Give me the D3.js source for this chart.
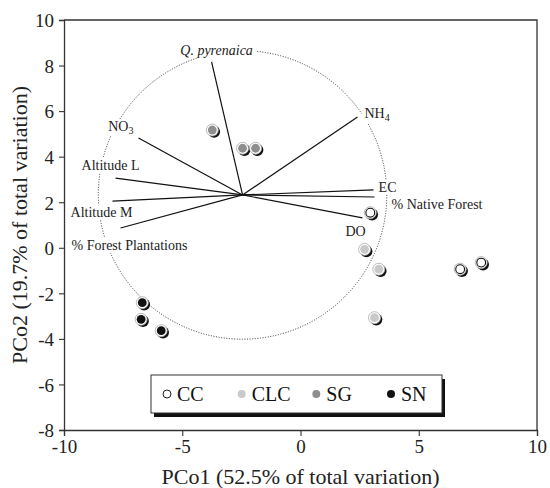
<!DOCTYPE html>
<html>
<head>
<meta charset="utf-8">
<script src="https://cdn.jsdelivr.net/npm/d3@7"></script>
<style>
  body { margin: 0; background: #fff; }
  svg { font-family: "Liberation Serif", "Times New Roman", serif; }
</style>
</head>
<body>
<div id="chart"></div>
<script>
// axis ticks
const xTicks = [-10, -5, 0, 5, 10];
const yTicks = [-8, -6, -4, -2, 0, 2, 4, 6, 8, 10];

// sample groups (PCo scores)
const groups = ['CC', 'CLC', 'SG', 'SN'];
const groupFill = ['#ffffff', '#c9c9c9', '#8e8e8e', '#111111'];
const ccX = [2.95, 6.75, 7.64];
const ccY = [1.54, -0.94, -0.65];
const clcX = [2.71, 3.31, 3.13];
const clcY = [-0.07, -0.94, -3.07];
const sgX = [-3.73, -2.45, -1.90];
const sgY = [5.17, 4.37, 4.37];
const snX = [-6.69, -6.74, -5.89];
const snY = [-2.41, -3.14, -3.64];

// vector overlay (origin, correlation circle radius in x units, tips)
const vecOrigin = [-2.45, 2.32];
const circleRadius = 6.1;
const vecNames = ['Q. pyrenaica', 'NO3', 'Altitude L', 'Altitude M', '% Forest Plantations', 'NH4', 'EC', '% Native Forest', 'DO'];
const vecX = [-3.76, -6.85, -7.82, -7.95, -7.61, 2.41, 3.09, 3.13, 2.62];
const vecY = [8.16, 4.82, 3.06, 2.05, 0.87, 5.74, 2.54, 2.23, 1.31];

// label placement relative to vector tip (px)
const labelPos = {
  'Q. pyrenaica': {dx: 5, dy: -7, anchor: 'middle'},
  'NO3': {dx: -5, dy: -7, anchor: 'end'},
  'Altitude L': {dx: -5, dy: -8, anchor: 'middle'},
  'Altitude M': {dx: -11, dy: 16, anchor: 'middle'},
  '% Forest Plantations': {dx: -49, dy: 22, anchor: 'start'},
  'NH4': {dx: 7, dy: 1, anchor: 'start'},
  'EC': {dx: 5, dy: 2, anchor: 'start'},
  '% Native Forest': {dx: 17, dy: 12, anchor: 'start'},
  'DO': {dx: -17, dy: 18, anchor: 'start'}
};

const W = 550, H = 488;
const margin = {top: 20, right: 13, bottom: 58, left: 64};
const width = W - margin.left - margin.right;
const height = H - margin.top - margin.bottom;

const svg = d3.select('#chart').append('svg')
  .attr('width', W)
  .attr('height', H);

const g = svg.append('g')
  .attr('transform', 'translate(' + margin.left + ',' + margin.top + ')');

const x = d3.scaleLinear().domain([-10, 10]).range([0, width]);
const y = d3.scaleLinear().domain([-8, 10]).range([height, 0]);

// frame (top and right)
g.append('path')
  .attr('d', 'M0,0H' + width + 'V' + height)
  .attr('fill', 'none')
  .attr('stroke', '#333')
  .attr('stroke-width', 1.3);

// axes - plain hyphen for negatives like the original
const fmt = d => String(d);
const xAxis = g.append('g')
  .attr('transform', 'translate(0,' + height + ')')
  .call(d3.axisBottom(x).tickValues(xTicks).tickSize(6).tickPadding(4).tickFormat(fmt));
const yAxis = g.append('g')
  .call(d3.axisLeft(y).tickValues(yTicks).tickSize(5).tickPadding(5).tickFormat(fmt));

[xAxis, yAxis].forEach(a => {
  a.select('.domain').attr('stroke', '#333').attr('stroke-width', 1.3);
  a.selectAll('.tick line').attr('stroke', '#333').attr('stroke-width', 1.1);
  a.selectAll('.tick text')
    .attr('fill', '#222')
    .style('font-family', '"Liberation Serif", serif')
    .style('font-size', '19px');
});
yAxis.selectAll('.tick text').attr('dy', '0.36em');

// axis titles
svg.append('text')
  .attr('x', margin.left + width / 2)
  .attr('y', 484)
  .attr('text-anchor', 'middle')
  .style('font-size', '22px')
  .attr('fill', '#222')
  .text('PCo1 (52.5% of total variation)');

svg.append('text')
  .attr('transform', 'translate(27,' + (margin.top + height / 2) + ') rotate(-90)')
  .attr('text-anchor', 'middle')
  .style('font-size', '22px')
  .attr('fill', '#222')
  .text('PCo2 (19.7% of total variation)');

// correlation circle
const ox = x(vecOrigin[0]), oy = y(vecOrigin[1]);
g.append('circle')
  .attr('cx', ox)
  .attr('cy', oy)
  .attr('r', x(vecOrigin[0] + circleRadius) - ox)
  .attr('fill', 'none')
  .attr('stroke', '#333')
  .attr('stroke-width', 1)
  .attr('stroke-dasharray', '1,1.6');

// vectors
const vectors = vecNames.map((n, i) => ({name: n, x: vecX[i], y: vecY[i]}));

const labels = g.append('g').attr('class', 'labels');

g.selectAll('.vec')
  .data(vectors)
  .join('line')
  .attr('class', 'vec')
  .attr('x1', ox).attr('y1', oy)
  .attr('x2', d => x(d.x)).attr('y2', d => y(d.y))
  .attr('stroke', '#111')
  .attr('stroke-width', 1.2);

vectors.forEach(d => {
  const p = labelPos[d.name];
  const t = labels.append('text')
    .attr('x', x(d.x) + p.dx)
    .attr('y', y(d.y) + p.dy)
    .attr('text-anchor', p.anchor)
    .style('font-size', '14px')
    .attr('fill', '#222');
  if (d.name === 'NO3' || d.name === 'NH4') {
    t.append('tspan').text(d.name.slice(0, 2));
    t.append('tspan').attr('dy', 3).style('font-size', '10px').text(d.name.slice(2));
  } else {
    t.text(d.name);
    if (d.name === 'Q. pyrenaica') t.style('font-style', 'italic');
  }
});
// knock out the circle under the labels
labels.selectAll('text').each(function() {
  const b = this.getBBox();
  labels.insert('rect', ':first-child')
    .attr('x', b.x - 3).attr('y', b.y)
    .attr('width', b.width + 6).attr('height', b.height)
    .attr('fill', '#fff');
});
labels.raise();

// points
const pts = [];
[[ccX, ccY], [clcX, clcY], [sgX, sgY], [snX, snY]].forEach((s, gi) => {
  s[0].forEach((v, i) => pts.push({x: v, y: s[1][i], group: gi}));
});

const ptG = g.append('g');
const pt = ptG.selectAll('g')
  .data(pts)
  .join('g')
  .attr('transform', d => 'translate(' + x(d.x) + ',' + y(d.y) + ')');
pt.append('circle')
  .attr('cx', 1.8).attr('cy', 1.8).attr('r', 6)
  .attr('fill', '#111');
pt.append('circle')
  .attr('r', 6)
  .attr('fill', '#fff')
  .attr('stroke', '#aaa')
  .attr('stroke-width', 0.8);
pt.append('circle')
  .attr('r', 4.4)
  .attr('fill', d => groupFill[d.group])
  .attr('stroke', d => d.group === 0 ? '#111' : 'none')
  .attr('stroke-width', 1.1);

// legend
const lg = svg.append('g').attr('transform', 'translate(151,375)');
const lgW = 291, lgH = 38;
lg.append('rect')
  .attr('x', 3).attr('y', 4).attr('width', lgW).attr('height', lgH)
  .attr('fill', '#111');
lg.append('rect')
  .attr('width', lgW).attr('height', lgH)
  .attr('fill', '#fff')
  .attr('stroke', '#333')
  .attr('stroke-width', 1);
const lgX = d3.scalePoint().domain(groups).range([16, 240]);
const item = lg.selectAll('.item')
  .data(groups)
  .join('g')
  .attr('class', 'item')
  .attr('transform', d => 'translate(' + lgX(d) + ',' + (lgH / 2) + ')');
item.append('circle')
  .attr('r', 4)
  .attr('fill', (d, i) => groupFill[i])
  .attr('stroke', (d, i) => i === 0 ? '#222' : 'none')
  .attr('stroke-width', 1);
item.append('text')
  .attr('x', 10)
  .attr('dy', '0.35em')
  .style('font-size', '20px')
  .attr('fill', '#111')
  .text(d => d);
</script>
</body>
</html>
